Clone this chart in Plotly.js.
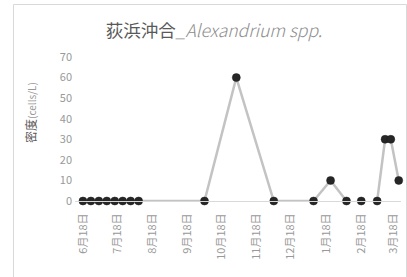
<!DOCTYPE html>
<html>
<head>
<meta charset="utf-8">
<script src="https://cdn.plot.ly/plotly-3.0.1.min.js"></script>
<style>
html,body{margin:0;padding:0;background:#fff;overflow:hidden;}
#chart{width:407px;height:277px;}
</style>
</head>
<body>
<div id="chart"></div>
<script>
// Sampling dates (null values create gaps in the line)
const sampleDates = ['2018-06-18','2018-06-25','2018-07-02','2018-07-09','2018-07-16','2018-07-23','2018-07-30','2018-08-06',
  '2018-10-03','2018-10-31','2018-12-03','2019-01-07','2019-01-22','2019-02-05','2019-02-11','2019-02-18','2019-02-25',
  '2019-03-04','2019-03-11','2019-03-16','2019-03-23'];
const density = [0,0,0,0,0,0,0,0,0,60,0,0,10,0,null,0,null,0,30,30,10];

const tickDates = ['2018-06-18','2018-07-18','2018-08-18','2018-09-18','2018-10-18','2018-11-18','2018-12-18','2019-01-18','2019-02-18','2019-03-18'];
const tickLabels = ['6月18日','7月18日','8月18日','9月18日','10月18日','11月18日','12月18日','1月18日','2月18日','3月18日'];
const yTicks = [0,10,20,30,40,50,60,70];

const W = 407, H = 277;
const M = {l:75, r:6, t:57, b:76};
const pw = W - M.l - M.r, ph = H - M.t - M.b;
const px2x = p => (p - M.l) / pw;
const px2y = p => (H - M.b - p) / ph;

const font = '"Noto Sans CJK JP", "Noto Sans", sans-serif';

const trace = {
  x: sampleDates, y: density, type: 'scatter', mode: 'lines+markers',
  connectgaps: false, cliponaxis: false,
  line: {color: '#c3c3c3', width: 2.5},
  marker: {color: '#262626', size: 8, line: {color: '#1a1a1a', width: 0.5}},
  hoverinfo: 'x+y'
};

const layout = {
  width: W, height: H,
  margin: M,
  paper_bgcolor: '#fff', plot_bgcolor: '#fff',
  showlegend: false,
  font: {family: font, color: '#8c8c8c'},
  title: {
    text: '<span style="color:#595959">荻浜沖合</span><span style="color:#8c8c8c;font-style:italic;font-weight:300">_Alexandrium spp.</span>',
    font: {family: font, size: 17.5, color: '#595959'},
    x: 214/W, xref: 'container', xanchor: 'center',
    y: 1 - 31/H, yref: 'container', yanchor: 'middle'
  },
  xaxis: {
    type: 'date',
    range: ['2018-06-11', '2019-03-25'],
    tickmode: 'array', tickvals: tickDates, ticktext: tickLabels,
    tickangle: -90,
    tickfont: {family: font, size: 11, color: '#999999'},
    showgrid: false, zeroline: false,
    showline: true, linecolor: '#d9d9d9', linewidth: 1,
    ticks: '', ticklabelstandoff: 7
  },
  yaxis: {
    range: [0, 70],
    tickmode: 'array', tickvals: yTicks,
    tickfont: {family: font, size: 11, color: '#999999'},
    showgrid: false, zeroline: false, showline: false,
    ticks: '', ticklabelstandoff: 2
  },
  annotations: [{
    xref: 'paper', yref: 'paper', x: px2x(30), y: px2y(113),
    xanchor: 'center', yanchor: 'middle', textangle: -90, showarrow: false,
    text: '<span style="color:#595959;font-size:12px">密度</span><span style="color:#999999;font-size:10px">(cells/L)</span>',
    font: {family: font, size: 12, color: '#595959'}
  }],
  shapes: [{
    type: 'rect', xref: 'paper', yref: 'paper',
    x0: px2x(13.5), x1: px2x(406.5), y0: px2y(290), y1: px2y(4.5),
    line: {color: '#d9d9d9', width: 1}, fillcolor: 'rgba(0,0,0,0)', layer: 'below'
  }]
};

Plotly.newPlot('chart', [trace], layout, {displayModeBar: false, staticPlot: true});
</script>
</body>
</html>
